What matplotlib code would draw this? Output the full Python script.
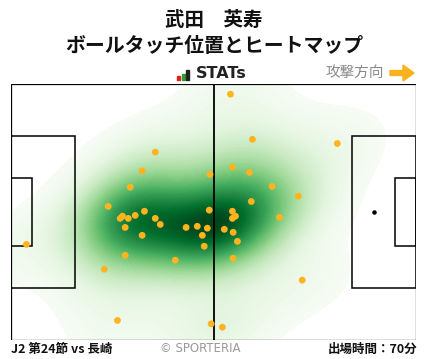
import numpy as np
import matplotlib
matplotlib.use("Agg")
import matplotlib.pyplot as plt
from matplotlib.patches import Rectangle, Polygon

plt.rcParams['font.family'] = ['Noto Sans CJK JP', 'DejaVu Sans']

title_name = "武田　英寿"
title_sub = "ボールタッチ位置とヒートマップ"
match_label = "J2 第24節 vs 長崎"
minutes_label = "出場時間：70分"

# ball touch positions in metres (x: own goal -> attack, y: from top touchline)
touch_x = [37.4, 34.0, 30.9, 51.6, 25.2, 51.4, 28.3, 28.9, 30.4, 32.2, 34.6,
           37.4, 38.7, 29.6, 34.0, 45.4, 48.3, 50.9, 49.6, 50.1, 4.0, 29.6,
           42.6, 24.2, 27.6, 51.9, 56.9, 62.6, 84.6, 57.4, 61.8, 67.7, 74.5,
           62.3, 57.4, 58.2, 57.4, 69.6, 55.3, 57.6, 58.7, 57.6, 75.5, 54.8]
touch_y = [18.1, 23.1, 27.4, 24.0, 32.5, 33.5, 35.7, 35.1, 35.7, 34.9, 33.8,
           35.7, 37.3, 38.1, 40.2, 38.1, 37.8, 38.3, 40.2, 43.1, 42.6, 45.5,
           46.8, 49.2, 62.8, 63.7, 2.7, 14.7, 15.8, 22.1, 23.5, 27.2, 29.8,
           31.2, 33.8, 35.1, 35.7, 35.4, 38.6, 39.4, 41.8, 46.3, 52.1, 64.6]

L, W = 105.0, 68.0

fig = plt.figure(figsize=(4.28, 3.59), dpi=100)
ax = fig.add_axes([11 / 428, 19 / 359, 405 / 428, 256 / 359])
ax.set_xlim(0, L)
ax.set_ylim(W, 0)
ax.axis('off')

# gaussian kde (scott's rule), levels by enclosed mass like seaborn
pts = np.vstack([touch_x, touch_y])
n = pts.shape[1]
factor = n ** (-1.0 / 6) * 1.15
cov = np.cov(pts) * factor ** 2
inv = np.linalg.inv(cov)
bw = np.sqrt(np.diag(cov))
gx, gy = np.meshgrid(np.linspace(min(touch_x) - 3 * bw[0], max(touch_x) + 3 * bw[0], 300),
                     np.linspace(min(touch_y) - 3 * bw[1], max(touch_y) + 3 * bw[1], 300))
grid = np.stack([gx.ravel(), gy.ravel()])
diff = grid[:, :, None] - pts[:, None, :]
dx = diff[0]
dy = diff[1]
q = inv[0, 0] * dx * dx + 2 * inv[0, 1] * dx * dy + inv[1, 1] * dy * dy
dens = np.exp(-0.5 * q).sum(axis=1).reshape(gx.shape)

isoprop = np.linspace(0.035, 1, 100)
vals = np.sort(dens.ravel())[::-1]
cum = np.cumsum(vals) / vals.sum()
idx = np.searchsorted(cum, 1 - isoprop)
levels = np.unique(np.take(vals, idx, mode='clip'))
ax.contourf(gx, gy, dens, levels=levels, cmap='Greens', zorder=1)

lc = 'black'
lw = 1.1
ax.add_patch(Rectangle((0, 0), L, W, fill=False, ec=lc, lw=0.9, zorder=3))
ax.plot([L / 2, L / 2], [0, W], color=lc, lw=1.3, zorder=3)
for x0, sgn in [(0, 1), (L, -1)]:
    ax.add_patch(Rectangle((x0, W / 2 - 20.16), sgn * 16.5, 40.32, fill=False, ec=lc, lw=lw, zorder=3))
    ax.add_patch(Rectangle((x0, W / 2 - 9.16), sgn * 5.5, 18.32, fill=False, ec=lc, lw=lw, zorder=3))
ax.scatter([L - 11], [W / 2], s=5, color=lc, zorder=3)

ax.scatter(touch_x, touch_y, s=24, color='#ffb31f', edgecolors='none', zorder=4)

fig.text(214 / 428, 1 - 20 / 359, title_name, ha='center', va='center', fontsize=14, fontweight='bold', color='#111')
fig.text(214 / 428, 1 - 46 / 359, title_sub, ha='center', va='center', fontsize=14.3, fontweight='bold', color='#111')

# STATs logo
fig.text(196 / 428, 1 - 74 / 359, "STATs", ha='left', va='center', fontsize=11.5, fontweight='bold',
         family='DejaVu Sans', color='#222')
for bx, bh, bc in [(177, 4, '#e02020'), (181.5, 6, '#2ca02c'), (186, 10, '#222222')]:
    fig.patches.append(Rectangle((bx / 428, 1 - 80 / 359), 3.2 / 428, bh / 359,
                                 transform=fig.transFigure, color=bc, figure=fig))

fig.text(384 / 428, 1 - 73 / 359, "攻撃方向", ha='right', va='center', fontsize=10.5, color='#8a8a8a')
arrow = [(390, 70.5), (403, 70.5), (403, 65), (414, 73), (403, 81), (403, 75.5), (390, 75.5)]
fig.patches.append(Polygon([(x / 428, 1 - y / 359) for x, y in arrow], closed=True,
                           transform=fig.transFigure, color='#f9b21c', figure=fig))

fig.text(11 / 428, 1 - 349 / 359, match_label, ha='left', va='center', fontsize=9, fontweight='bold', color='#111')
fig.text(200 / 428, 1 - 348 / 359, "© SPORTERIA", ha='center', va='center', fontsize=8.5, color='#999999',
         family='DejaVu Sans')
fig.text(417 / 428, 1 - 349 / 359, minutes_label, ha='right', va='center', fontsize=9, fontweight='bold', color='#111')

fig.savefig('out.png', dpi=100)
